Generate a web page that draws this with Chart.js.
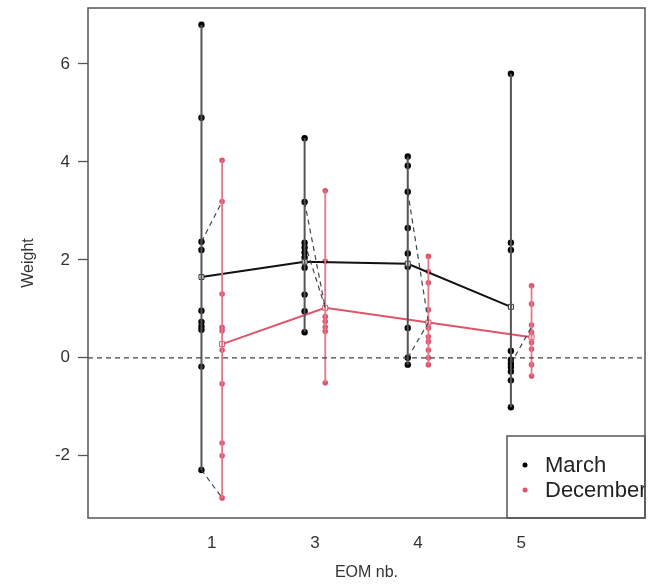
<!DOCTYPE html>
<html>
<head>
<meta charset="utf-8">
<script src="https://cdn.jsdelivr.net/npm/chart.js@4.4.1/dist/chart.umd.min.js"></script>
<style>
  body { margin: 0; background: #fff; }
  #wrap { width: 654px; height: 585px; }
</style>
</head>
<body>
<div id="wrap"><canvas id="weightChart" width="654" height="585"></canvas></div>
<script>
// EOM categories, shown at positions 1..4
const eomLabels = ['1', '3', '4', '5'];
const seriesNames = ['March', 'December'];

// individual weights per EOM
const marchWeights = [
    [6.8, 4.9, 2.37, 2.2, 0.96, 0.73, 0.64, 0.57, -0.18, -2.29],
    [4.48, 3.18, 2.35, 2.25, 2.15, 2.05, 1.84, 1.29, 0.95, 0.52],
    [4.11, 3.92, 3.39, 2.65, 2.13, 1.86, 0.61, 0.0, -0.14],
    [5.8, 2.35, 2.2, 0.14, -0.04, -0.12, -0.19, -0.28, -0.46, -1.01]
];
const decemberWeights = [
    [4.03, 3.19, 1.3, 0.62, 0.55, 0.16, -0.53, -1.74, -2.0, -2.86],
    [3.41, 1.97, 1.02, 0.84, 0.74, 0.63, 0.54, -0.51],
    [2.07, 1.76, 1.53, 0.98, 0.61, 0.43, 0.33, 0.16, 0.0, -0.14],
    [1.47, 1.1, 0.67, 0.52, 0.31, 0.18, -0.14, -0.37]
];

// group means
const marchMean = [1.65, 1.96, 1.92, 1.04];
const decemberMean = [0.28, 1.02, 0.72, 0.42];

// dashed links march -> december: [category index, march value, december value]
const pairLinks = [
    [0, 2.37, 3.19],
    [0, -2.29, -2.86],
    [1, 3.18, 1.02],
    [1, 2.35, 1.02],
    [2, 3.39, 0.72],
    [2, 0.0, 0.72],
    [3, -0.12, 0.63]
];

const yTicks = [-2, 0, 2, 4, 6];

const shift = 0.1;
const red = '#DF536B';
const X_MIN = -0.2, X_MAX = 5.2;
const FONT = '"Liberation Sans", Arial, sans-serif';

function pointsOf(groups, off) {
    const out = [];
    groups.forEach((g, i) => g.forEach(v => out.push({x: i + 1 + off, y: v})));
    return out;
}
function rangesOf(groups, off) {
    const out = [];
    groups.forEach((g, i) => {
        out.push({x: i + 1 + off, y: Math.min(...g)});
        out.push({x: i + 1 + off, y: Math.max(...g)});
        out.push({x: i + 1 + off, y: null});
    });
    return out;
}
function meanOf(means, off) {
    return means.map((v, i) => ({x: i + 1 + off, y: v}));
}
const linkData = [];
pairLinks.forEach(p => {
    linkData.push({x: p[0] + 1 - shift, y: p[1]});
    linkData.push({x: p[0] + 1 + shift, y: p[2]});
    linkData.push({x: p[0] + 1, y: null});
});

const framePlugin = {
    id: 'frame',
    afterDraw(chart) {
        const {ctx, chartArea: a} = chart;
        ctx.save();
        // legend
        const lx = a.right - 138, ly = a.bottom - 82;
        ctx.fillStyle = '#fff';
        ctx.fillRect(lx, ly, a.right - lx, a.bottom - ly);
        ctx.beginPath();
        ctx.rect(lx, ly, a.right - lx, a.bottom - ly);
        ctx.clip();
        ctx.font = '22px ' + FONT;
        ctx.textBaseline = 'middle';
        [['#000', 29], [red, 54]].forEach((c, i) => {
            ctx.fillStyle = c[0];
            ctx.beginPath();
            ctx.arc(lx + 18, ly + c[1], 2.5, 0, Math.PI * 2);
            ctx.fill();
            ctx.fillStyle = '#222';
            ctx.fillText(seriesNames[i], lx + 38, ly + c[1] + 1);
        });
        ctx.restore();
        ctx.save();
        ctx.strokeStyle = '#555';
        ctx.lineWidth = 1.5;
        ctx.strokeRect(lx, ly, a.right - lx, a.bottom - ly);
        ctx.strokeRect(a.left, a.top, a.right - a.left, a.bottom - a.top);
        ctx.restore();
    }
};

const ctx = document.getElementById('weightChart');
new Chart(ctx, {
    type: 'scatter',
    data: {
        datasets: [
            {
                label: 'zero',
                data: [{x: X_MIN, y: 0}, {x: X_MAX, y: 0}],
                showLine: true,
                borderColor: '#444',
                borderWidth: 1.2,
                borderDash: [5, 4],
                pointRadius: 0
            },
            {
                label: 'links',
                data: linkData,
                showLine: true,
                spanGaps: false,
                borderColor: '#444',
                borderWidth: 1.2,
                borderDash: [5, 4],
                pointRadius: 0
            },
            {
                label: 'marchRange',
                data: rangesOf(marchWeights, -shift),
                showLine: true,
                spanGaps: false,
                borderColor: '#555',
                borderWidth: 2,
                pointRadius: 0
            },
            {
                label: 'decRange',
                data: rangesOf(decemberWeights, shift),
                showLine: true,
                spanGaps: false,
                borderColor: '#e6788c',
                borderWidth: 1.8,
                pointRadius: 0
            },
            {
                label: 'marchMean',
                data: meanOf(marchMean, -shift),
                showLine: true,
                borderColor: '#111',
                borderWidth: 2,
                pointStyle: 'rect',
                pointRadius: 3.5,
                pointBackgroundColor: '#fff',
                pointBorderColor: '#333',
                pointBorderWidth: 1
            },
            {
                label: 'decMean',
                data: meanOf(decemberMean, shift),
                showLine: true,
                borderColor: red,
                borderWidth: 2,
                pointStyle: 'rect',
                pointRadius: 3.5,
                pointBackgroundColor: '#fff',
                pointBorderColor: red,
                pointBorderWidth: 1
            },
            {
                label: seriesNames[0],
                data: pointsOf(marchWeights, -shift),
                pointRadius: 3.2,
                pointBackgroundColor: '#000',
                pointBorderColor: '#000',
                pointBorderWidth: 0
            },
            {
                label: seriesNames[1],
                data: pointsOf(decemberWeights, shift),
                pointRadius: 2.8,
                pointBackgroundColor: red,
                pointBorderColor: red,
                pointBorderWidth: 0
            }
        ]
    },
    options: {
        responsive: false,
        animation: false,
        layout: {
            padding: {left: 0, right: 9, top: 8, bottom: 0}
        },
        plugins: {
            legend: {display: false},
            tooltip: {enabled: false}
        },
        scales: {
            x: {
                type: 'linear',
                min: X_MIN,
                max: X_MAX,
                afterBuildTicks: (scale) => {
                    scale.ticks = eomLabels.map((_, i) => ({value: i + 1}));
                },
                afterFit: (scale) => {
                    scale.height = 67;
                    scale.paddingLeft = 0;
                    scale.paddingRight = 0;
                },
                ticks: {
                    autoSkip: false,
                    maxRotation: 0,
                    padding: 7,
                    color: '#333',
                    font: {family: FONT, size: 17},
                    callback: (v, i) => eomLabels[i]
                },
                grid: {display: false},
                border: {display: false},
                title: {
                    display: true,
                    text: 'EOM nb.',
                    color: '#333',
                    font: {family: FONT, size: 16},
                    padding: {top: 0, bottom: 3}
                }
            },
            y: {
                min: -3.27,
                max: 7.14,
                afterBuildTicks: (scale) => {
                    scale.ticks = yTicks.map(v => ({value: v}));
                },
                afterFit: (scale) => {
                    scale.width = 88;
                    scale.paddingTop = 0;
                    scale.paddingBottom = 0;
                },
                ticks: {
                    padding: 8,
                    color: '#333',
                    font: {family: FONT, size: 17}
                },
                grid: {
                    display: true,
                    drawOnChartArea: false,
                    drawTicks: true,
                    tickLength: 10,
                    tickColor: '#555',
                    tickWidth: 1.3
                },
                border: {display: false},
                title: {
                    display: true,
                    text: 'Weight',
                    color: '#333',
                    font: {family: FONT, size: 16},
                    padding: {top: 19, bottom: 0}
                }
            }
        }
    },
    plugins: [framePlugin]
});
</script>
</body>
</html>
